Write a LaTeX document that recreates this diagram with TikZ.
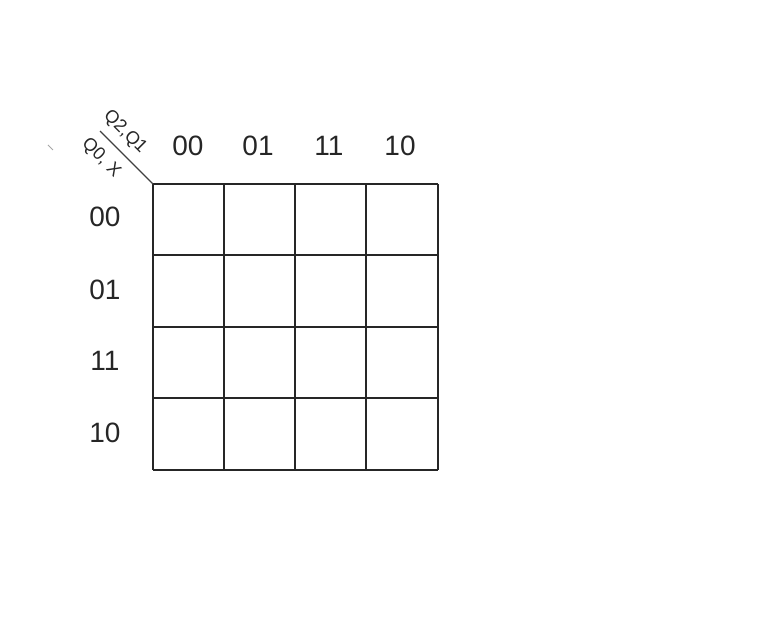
\documentclass[tikz,border=0pt]{standalone}
\usepackage{fontspec}
\setmainfont{Liberation Sans}
\begin{document}
\begin{tikzpicture}[x=1pt,y=-1pt,
  gridline/.style={line width=1.6pt,black!85},
  lab/.style={font=\fontsize{28}{30}\selectfont,text=black!85,inner sep=0pt},
  varlab/.style={font=\fontsize{18}{20}\selectfont,text=black!85,inner sep=0pt,rotate=-45}]
\useasboundingbox (0,0) rectangle (783,628);
% grid
\foreach \x in {153,224,295,366,438} \draw[gridline] (\x,184) -- (\x,470);
\foreach \y in {184,255,327,398,470} \draw[gridline] (153,\y) -- (438,\y);
% corner diagonal
\coordinate (d1) at (100,131);
\coordinate (d2) at (153,184);
\draw[line width=1.3pt,black!75] (d1) -- (d2);
\coordinate (s1) at (48,145);
\coordinate (s2) at (53,150);
\draw[line width=0.8pt,black!35] (s1) -- (s2);
% variable labels
\node[varlab] (v1) at (125,132) {Q2,Q1};
\node[varlab] (v2) at (101,158) {Q0, X};
% column labels
\node[lab] (c1) at (188,146) {00};
\node[lab] (c2) at (258,146) {01};
\node[lab] (c3) at (329,146) {11};
\node[lab] (c4) at (400,146) {10};
% row labels
\node[lab] (r1) at (105,217) {00};
\node[lab] (r2) at (105,290) {01};
\node[lab] (r3) at (105,361) {11};
\node[lab] (r4) at (105,433) {10};
\end{tikzpicture}
\end{document}
